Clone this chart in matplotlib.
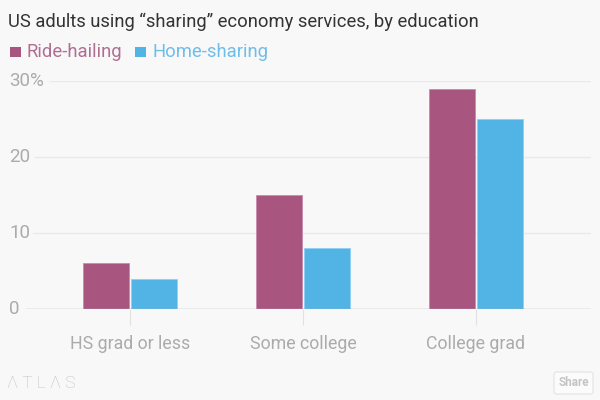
import matplotlib
matplotlib.use("Agg")
import matplotlib.pyplot as plt
import matplotlib.transforms as mtransforms
from matplotlib.patches import Rectangle, FancyBboxPatch
import numpy as np

# ---- data ----
categories = ["HS grad or less", "Some college", "College grad"]
ride_hailing = [6, 15, 29]
home_sharing = [4, 8, 25]
y_ticks = [0, 10, 20, 30]
y_labels = ["0", "10", "20", "30%"]
series_names = ["Ride-hailing", "Home-sharing"]

RIDE = "#a8557f"
HOME = "#52b3e5"
BG = "#f8f8f8"
GRAY = "#ababab"

plt.rcParams["font.family"] = ["Roboto", "DejaVu Sans"]

W, H = 600, 400
fig = plt.figure(figsize=(6, 4), dpi=100, facecolor=BG)

def px(x, y):
    # pixel (from top-left) -> figure fraction
    return x / W, 1 - y / H

ax_left, ax_right, ax_bottom, ax_top = 26, 591, 309, 81
ax = fig.add_axes([ax_left / W, 1 - ax_bottom / H,
                   (ax_right - ax_left) / W, (ax_bottom - ax_top) / H])
ax.set_facecolor(BG)

x = np.arange(len(categories))
bar_w = 46 / 173
off = 48 / 173 / 2
ax.bar(x - off, ride_hailing, bar_w, color=RIDE, edgecolor="#c98aa9", linewidth=0.6, zorder=3)
ax.bar(x + off, home_sharing, bar_w, color=HOME, edgecolor="#8fd0f0", linewidth=0.6, zorder=3)

ax.set_xlim(-104 / 173, 2 + 115 / 173)
ax.set_ylim(0, 30)

for s in ax.spines.values():
    s.set_visible(False)

# gridlines start just right of each label
grid_start = {10: 33, 20: 35, 30: 50}
for v, sx in grid_start.items():
    ax.axhline(v, xmin=(sx - ax_left) / (ax_right - ax_left), xmax=1,
               color="#e9e9e9", linewidth=1, zorder=1)
ax.axhline(0, color="#b5b5b5", linewidth=1, zorder=4)

ax.set_yticks([])
ax.set_xticks(x)
ax.set_xticklabels(categories, fontsize=12.8, color=GRAY)
ax.tick_params(axis="x", length=11.5, width=0.8, color="#e2e2e2", pad=7)

trans = mtransforms.blended_transform_factory(fig.transFigure, ax.transData)
for v, lab in zip(y_ticks, y_labels):
    ax.text(9 / W, v, lab, transform=trans, ha="left", va="center",
            fontsize=13.5, color=GRAY)

# title
tx, ty = px(8, 27)
fig.text(tx, ty, "US adults using \u201csharing\u201d economy services, by education",
         fontsize=13.2, color="#333333", ha="left", va="baseline")

# legend
legend_items = [(10, 27, RIDE, "#b06e93"), (135, 152, HOME, "#6fbde8")]
for (sq_x, t_x, col, tcol), name in zip(legend_items, series_names):
    fx, fy = px(sq_x, 57)
    fig.patches.append(Rectangle((fx, fy), 11 / W, 10 / H, transform=fig.transFigure,
                                 facecolor=col, edgecolor="none"))
    lx, ly = px(t_x, 57)
    fig.text(lx, ly, name, fontsize=13.3, color=tcol, ha="left", va="baseline")

# footer
fx, fy = px(7, 384)
fig.text(fx, fy, "\u039b T L \u039b S", fontsize=12.5, color="#c0c0c0", ha="left", va="center",
         fontweight="light")
bx, by = px(554, 394)
fig.patches.append(FancyBboxPatch((bx, by), 39 / W, 22 / H, transform=fig.transFigure,
                                  boxstyle="round,pad=0,rounding_size=0.005",
                                  facecolor="#fbfbfb", edgecolor="#e3e3e3", linewidth=0.8))
sx, sy = px(573.5, 383)
fig.text(sx, sy, "Share", fontsize=8.5, color="#c4c4c4", ha="center", va="center",
         fontweight="bold")

fig.savefig("out.png", dpi=100, facecolor=BG)
